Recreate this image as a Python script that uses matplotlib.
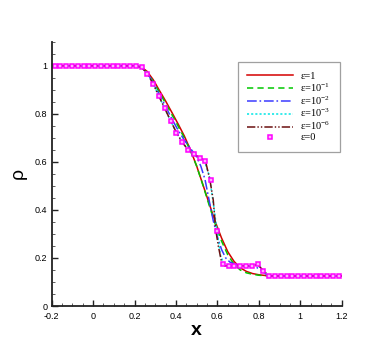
import numpy as np
import matplotlib
matplotlib.use("Agg")
import matplotlib.pyplot as plt

plt.rcParams['font.family'] = ['Liberation Sans', 'DejaVu Sans']
plt.rcParams['mathtext.fontset'] = 'custom'
plt.rcParams['mathtext.rm'] = 'Liberation Serif'
plt.rcParams['mathtext.it'] = 'Liberation Serif:italic'
plt.rcParams['lines.scale_dashes'] = False

# eps = 1 (rojo)
x_e1 = [-0.2, 0.20, 0.23, 0.26, 0.29, 0.32, 0.35, 0.38, 0.41, 0.44, 0.47, 0.50, 0.53,
        0.56, 0.59, 0.62, 0.65, 0.68, 0.71, 0.74, 0.77, 0.80, 0.83, 0.86, 1.2]
rho_e1 = [1.0, 1.0, 0.996, 0.977, 0.942, 0.897, 0.853, 0.806, 0.758, 0.708, 0.650, 0.582, 0.505,
          0.427, 0.350, 0.283, 0.226, 0.186, 0.159, 0.144, 0.135, 0.130, 0.127, 0.125, 0.125]

# eps = 1e-1 (verde)
x_e01 = [-0.2, 0.20, 0.23, 0.26, 0.29, 0.32, 0.35, 0.38, 0.41, 0.44, 0.47, 0.50, 0.53,
         0.56, 0.59, 0.62, 0.65, 0.68, 0.71, 0.74, 0.77, 0.80, 0.83, 0.86, 1.2]
rho_e01 = [1.0, 1.0, 0.994, 0.972, 0.935, 0.889, 0.844, 0.797, 0.749, 0.700, 0.645, 0.582, 0.503,
           0.420, 0.340, 0.270, 0.213, 0.174, 0.150, 0.138, 0.132, 0.128, 0.126, 0.125, 0.125]

# eps = 1e-2 (azul)
x_e2 = [-0.2, 0.20, 0.23, 0.26, 0.29, 0.32, 0.35, 0.38, 0.41, 0.44, 0.47, 0.50, 0.52, 0.54,
        0.56, 0.58, 0.60, 0.62, 0.64, 0.66, 0.69, 0.72, 0.76, 0.79, 0.81, 0.83, 0.85, 0.87, 1.2]
rho_e2 = [1.0, 1.0, 0.995, 0.971, 0.930, 0.880, 0.830, 0.779, 0.732, 0.691, 0.656, 0.620, 0.582, 0.527,
          0.440, 0.355, 0.288, 0.235, 0.200, 0.183, 0.172, 0.168, 0.165, 0.160, 0.150, 0.135, 0.126, 0.125, 0.125]

# eps = 1e-3 (cian)
x_e3 = [-0.2, 0.20, 0.234, 0.262, 0.290, 0.318, 0.346, 0.374, 0.402, 0.430, 0.458, 0.486, 0.514,
        0.540, 0.560, 0.580, 0.600, 0.615, 0.630, 0.654, 0.70, 0.75, 0.79, 0.81, 0.83, 0.85, 0.87, 1.2]
rho_e3 = [1.0, 1.0, 0.995, 0.968, 0.925, 0.873, 0.822, 0.771, 0.722, 0.682, 0.652, 0.633, 0.615,
          0.595, 0.545, 0.430, 0.300, 0.210, 0.178, 0.168, 0.166, 0.167, 0.172, 0.160, 0.138, 0.126, 0.125, 0.125]

# eps = 1e-6 (marron)
x_e6 = [-0.2, 0.206, 0.234, 0.262, 0.290, 0.318, 0.346, 0.374, 0.402, 0.430, 0.458, 0.486, 0.514,
        0.542, 0.564, 0.580, 0.592, 0.605, 0.621, 0.635, 0.766, 0.794, 0.822, 0.850, 1.2]
rho_e6 = [1.0, 1.0, 0.993, 0.967, 0.924, 0.872, 0.822, 0.771, 0.722, 0.682, 0.650, 0.632, 0.618,
          0.605, 0.524, 0.440, 0.316, 0.247, 0.178, 0.167, 0.167, 0.173, 0.147, 0.125, 0.125]

# eps = 0 (cuadrados, centros de celda)
x_e0 = np.linspace(-0.186, 1.186, 50)
rho_e0 = [1.0] * 15 + [0.993, 0.967, 0.924, 0.872, 0.822, 0.771, 0.722, 0.682, 0.650, 0.632, 0.618,
                       0.605, 0.524, 0.312, 0.176, 0.167, 0.166, 0.166, 0.166, 0.167, 0.173, 0.147] + [0.125] * 13

labels = ['ε=1', 'ε=10$^{-1}$', 'ε=10$^{-2}$', 'ε=10$^{-3}$', 'ε=10$^{-6}$', 'ε=0']

fig = plt.figure(figsize=(3.89, 3.46), dpi=100)
ax = fig.add_axes([0.1329, 0.1156, 0.7455, 0.7639])

lw = 1.1
ax.plot(x_e1, rho_e1, color='#d40000', lw=lw, label=labels[0])
ax.plot(x_e01, rho_e01, color='#00c800', lw=lw, dashes=(4.5, 3.0), label=labels[1])
ax.plot(x_e2, rho_e2, color='#3a3aff', lw=lw, dashes=(7, 2, 1.2, 2), label=labels[2])
ax.plot(x_e3, rho_e3, color='#00e5e5', lw=lw, dashes=(1.5, 1.5), label=labels[3])
ax.plot(x_e6, rho_e6, color='#6b1010', lw=lw, dashes=(6, 1.5, 1, 1.5, 1, 1.5), label=labels[4])
ax.plot(x_e0, rho_e0, ls='none', marker='s', ms=3.4, mfc='#ffb0ff', mec='#ff00ff', mew=1.1, label=labels[5])

ax.set_xlim(-0.2, 1.2)
ax.set_ylim(0, 1.1)
ax.set_xticks(np.arange(-0.2, 1.21, 0.2))
ax.set_xticks(np.arange(-0.2, 1.21, 0.05), minor=True)
ax.set_yticks([0, 0.2, 0.4, 0.6, 0.8, 1])
ax.set_yticks(np.arange(0, 1.11, 0.05), minor=True)
ax.set_xticklabels(['-0.2', '0', '0.2', '0.4', '0.6', '0.8', '1', '1.2'])
ax.set_yticklabels(['0', '0.2', '0.4', '0.6', '0.8', '1'])

for s in ['top', 'right']:
    ax.spines[s].set_visible(False)
for s in ['left', 'bottom']:
    ax.spines[s].set_linewidth(1.3)
    ax.spines[s].set_color('#222222')

ax.tick_params(which='major', direction='in', length=4, width=1.0, labelsize=6.5, color='#222222')
ax.tick_params(which='minor', direction='in', length=2.3, width=0.6, color='#444444')
ax.tick_params(axis='x', which='major', pad=4)
ax.tick_params(axis='y', which='major', pad=3)

ax.set_xlabel('x', fontsize=14, fontweight='bold')
ax.set_ylabel('ρ', fontsize=14)
ax.xaxis.set_label_coords(0.5, -0.06)
ax.yaxis.set_label_coords(-0.085, 0.5)

lg = ax.legend(loc='upper left', bbox_to_anchor=(238 / 389, 1 - 62 / 346), bbox_transform=fig.transFigure,
               prop={'family': 'Liberation Serif', 'size': 7.5}, frameon=True, fancybox=False,
               edgecolor='#888888', borderaxespad=0, borderpad=0.9, labelspacing=0.05,
               handlelength=4.4, handletextpad=0.7, numpoints=1)
lg.get_frame().set_linewidth(0.9)

fig.savefig('out.png', dpi=100)
